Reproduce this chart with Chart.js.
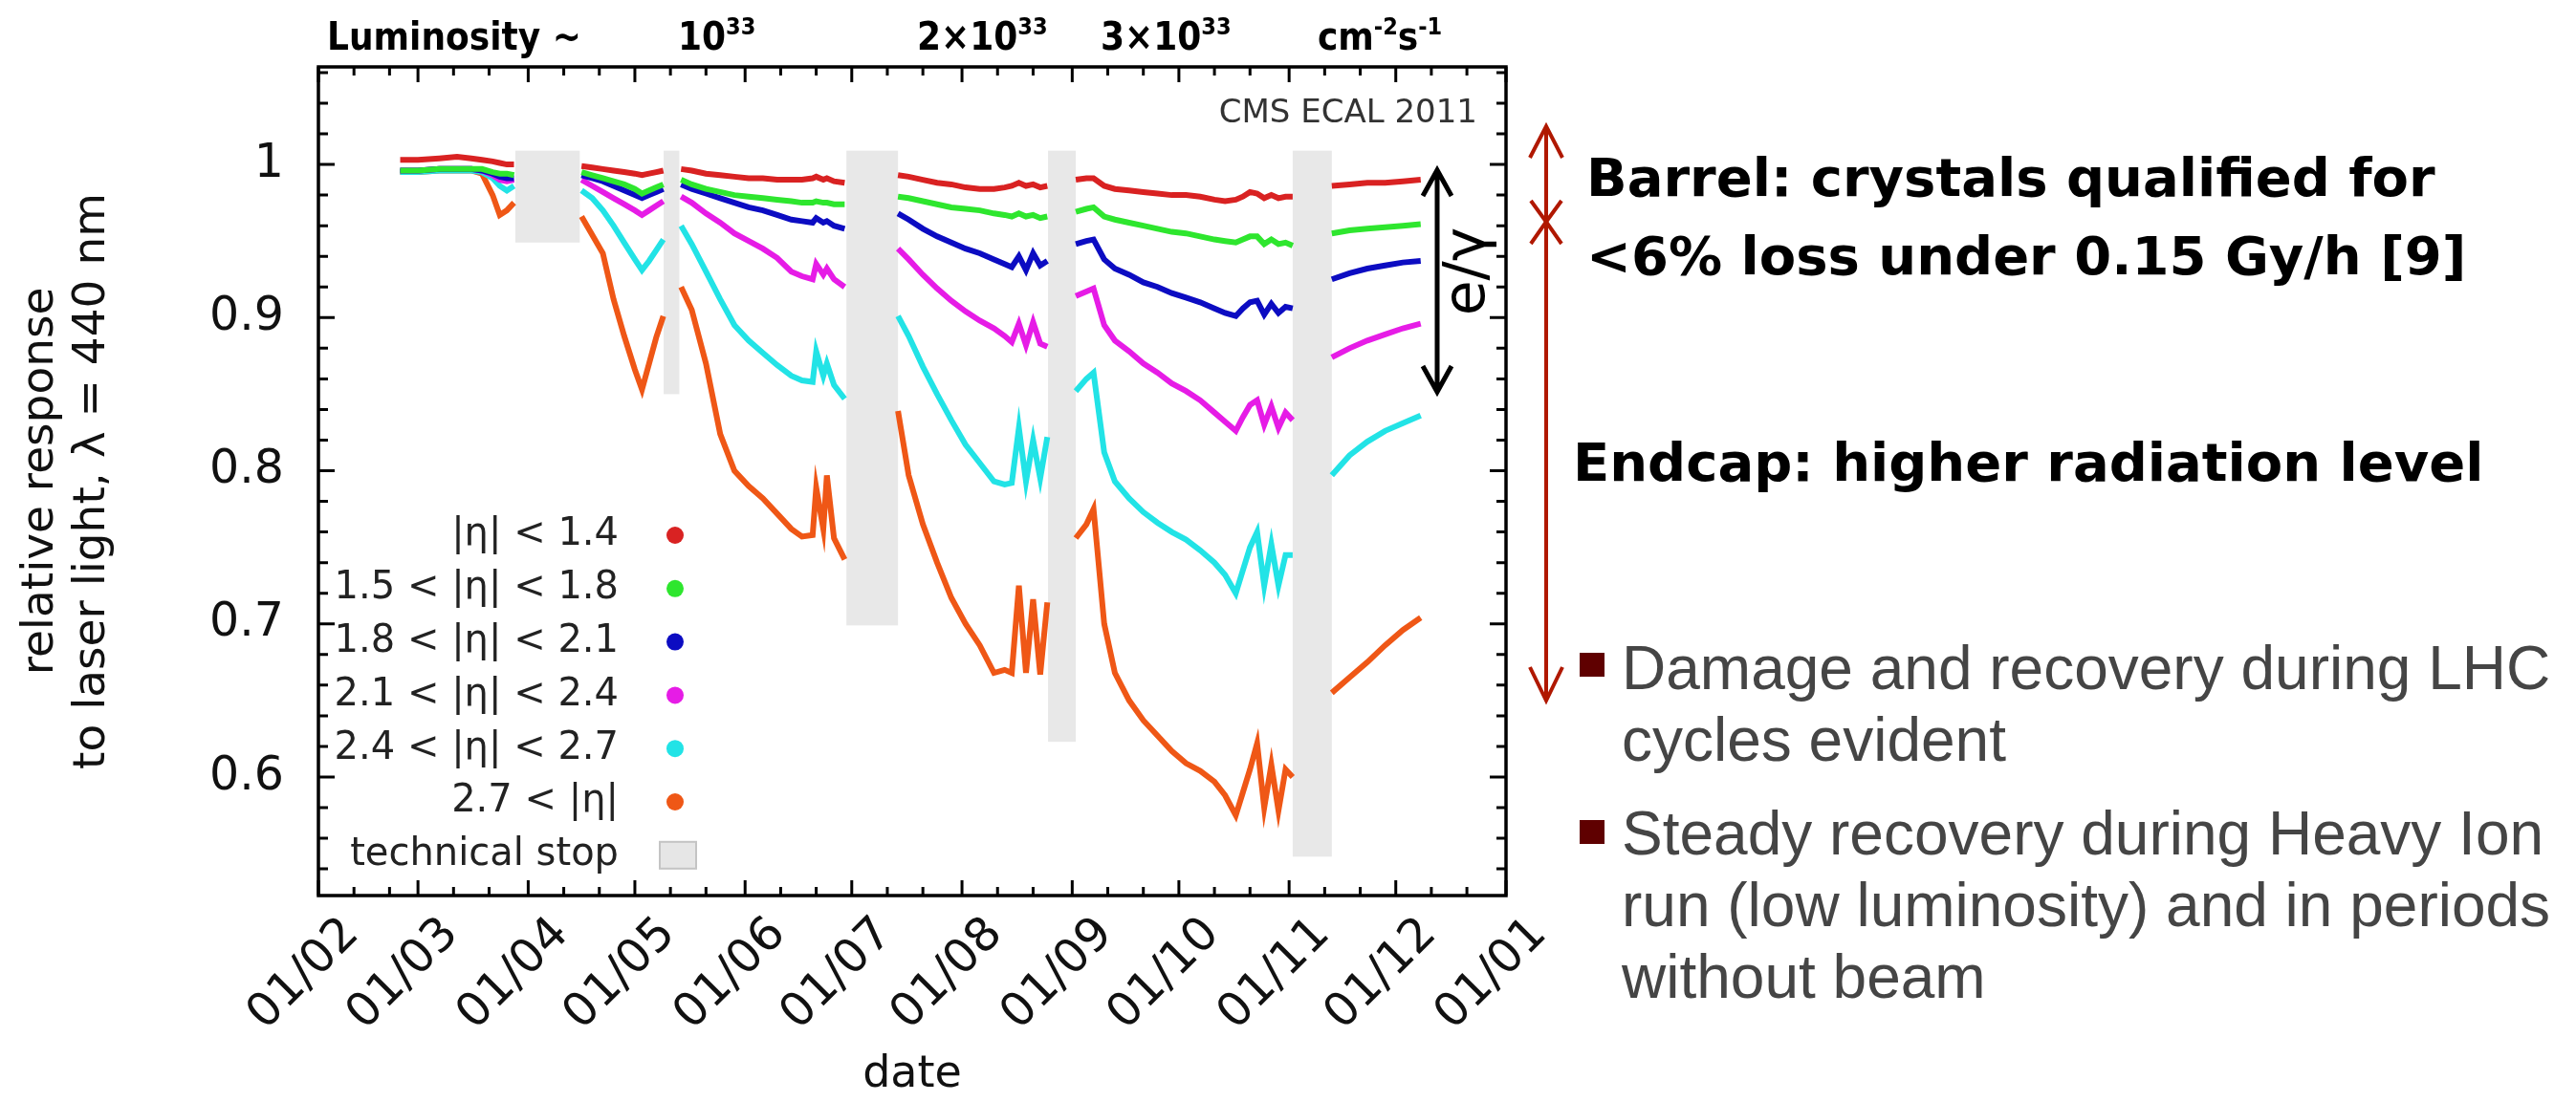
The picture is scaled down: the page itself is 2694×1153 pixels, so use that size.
<!DOCTYPE html>
<html>
<head>
<meta charset="utf-8">
<title>ECAL crystal response 2011</title>
<script src="https://cdn.jsdelivr.net/npm/chart.js@4.4.1/dist/chart.umd.min.js"></script>
<style>
  html, body { margin: 0; padding: 0; background: #fff; }
  #page { position: relative; width: 2694px; height: 1153px; overflow: hidden; background: #fff; }
  #plot { position: absolute; left: 0; top: 0; }
  .lumi { position: absolute; top: 18px; font: bold 40px "DejaVu Sans Condensed", "DejaVu Sans"; line-height: 1; color: #000; white-space: nowrap; }
  .lumi sup { font-size: 25px; position: relative; top: -16px; vertical-align: baseline; }
  .head { position: absolute; font: bold 56px "DejaVu Sans"; line-height: 1; color: #000; white-space: nowrap; }
  .bullet { position: absolute; left: 1696px; font: 64px "Liberation Sans"; line-height: 75px; color: #454545; white-space: nowrap; }
  .square { position: absolute; left: 1652px; width: 26px; height: 25px; background: #5f0000; }
  #marks { position: absolute; left: 0; top: 0; }
</style>
</head>
<body>
<div id="page">
  <canvas id="plot" width="1640" height="1153"></canvas>

  <div class="lumi" style="left:342px">Luminosity ~</div>
  <div class="lumi" style="left:709px">10<sup>33</sup></div>
  <div class="lumi" style="left:959px">2×10<sup>33</sup></div>
  <div class="lumi" style="left:1151px">3×10<sup>33</sup></div>
  <div class="lumi" style="left:1378px">cm<sup>-2</sup>s<sup>-1</sup></div>

  <svg id="marks" width="2694" height="1153">
    <g stroke="#b01800" stroke-width="4" fill="none">
      <line x1="1617" y1="134" x2="1617" y2="731"/>
      <polyline points="1600,165 1617,132 1634,165"/>
      <polyline points="1601,210 1617,232 1633,210"/>
      <polyline points="1601,255 1617,232 1633,255"/>
      <polyline points="1600,698 1617,733 1634,698"/>
    </g>
  </svg>

  <div class="head" style="left:1659px; top:158px">Barrel: crystals qualified for</div>
  <div class="head" style="left:1659px; top:240px">&lt;6% loss under 0.15 Gy/h [9]</div>
  <div class="head" style="left:1645px; top:456px">Endcap: higher radiation level</div>

  <div class="square" style="top:683px"></div>
  <div class="bullet" style="top:662px">Damage and recovery during LHC<br>cycles evident</div>
  <div class="square" style="top:858px"></div>
  <div class="bullet" style="top:835px">Steady recovery during Heavy Ion<br>run (low luminosity) and in periods<br>without beam</div>
</div>

<script>
// x axis: day of year 2011, month starts carry the labels
const monthStarts = [32, 60, 91, 121, 152, 182, 213, 244, 274, 305, 335, 366];
const monthLabels = ['01/02', '01/03', '01/04', '01/05', '01/06', '01/07',
                     '01/08', '01/09', '01/10', '01/11', '01/12', '01/01'];
const yTicks = [0.6, 0.7, 0.8, 0.9, 1];

// sampling days; the lone days 96, 131, 188, 241, 311 sit inside the stops (null -> gap)
const days = [
  55, 60, 66, 71, 75, 78, 81, 83, 85, 87,
  96,
  106, 109, 112, 115, 118, 121, 123, 125, 127, 129,
  131,
  134, 137, 141, 145, 149, 153, 157, 161, 165, 168, 171, 172, 174, 175, 177, 180,
  188,
  195, 198, 202, 206, 210, 214, 218, 222, 225, 227, 229, 231, 233, 235, 237,
  241,
  245, 248, 250, 253, 256, 260, 264, 268, 272, 276, 280, 284, 287, 290, 292, 294, 296, 298, 300, 302, 304, 306,
  311,
  317, 322, 327, 332, 337, 342
];

const eta14 = [
  1.003, 1.003, 1.004, 1.005, 1.004, 1.003, 1.002, 1.001, 1.000, 1.000,
  null,
  0.999, 0.998, 0.997, 0.996, 0.995, 0.994, 0.993, 0.994, 0.995, 0.996,
  null,
  0.997, 0.996, 0.994, 0.993, 0.992, 0.991, 0.991, 0.990, 0.990, 0.990, 0.991, 0.992, 0.990, 0.991, 0.989, 0.988,
  null,
  0.993, 0.992, 0.990, 0.988, 0.987, 0.985, 0.984, 0.984, 0.985, 0.986, 0.988, 0.986, 0.987, 0.985, 0.986,
  null,
  0.990, 0.991, 0.991, 0.986, 0.984, 0.983, 0.982, 0.981, 0.980, 0.980, 0.979, 0.977, 0.976, 0.977, 0.979, 0.982, 0.981, 0.978, 0.980, 0.978, 0.979, 0.979,
  null,
  0.986, 0.987, 0.988, 0.988, 0.989, 0.990
];

const eta1518 = [
  0.996, 0.996, 0.997, 0.997, 0.997, 0.997, 0.995, 0.994, 0.994, 0.993,
  null,
  0.995, 0.993, 0.991, 0.989, 0.987, 0.984, 0.981, 0.983, 0.985, 0.987,
  null,
  0.990, 0.987, 0.984, 0.982, 0.980, 0.979, 0.978, 0.977, 0.976, 0.975, 0.975, 0.976, 0.975, 0.975, 0.974, 0.974,
  null,
  0.979, 0.978, 0.976, 0.974, 0.972, 0.971, 0.970, 0.968, 0.967, 0.966, 0.968, 0.966, 0.967, 0.965, 0.966,
  null,
  0.969, 0.971, 0.972, 0.966, 0.964, 0.962, 0.960, 0.958, 0.956, 0.955, 0.953, 0.951, 0.950, 0.949, 0.951, 0.953, 0.953, 0.948, 0.951, 0.948, 0.949, 0.947,
  null,
  0.955, 0.957, 0.958, 0.959, 0.960, 0.961
];

const eta1821 = [
  0.996, 0.996, 0.997, 0.997, 0.997, 0.996, 0.994, 0.992, 0.991, 0.991,
  null,
  0.993, 0.991, 0.989, 0.986, 0.983, 0.980, 0.978, 0.980, 0.982, 0.984,
  null,
  0.987, 0.984, 0.981, 0.978, 0.975, 0.972, 0.970, 0.967, 0.964, 0.963, 0.962, 0.965, 0.962, 0.963, 0.960, 0.958,
  null,
  0.968, 0.964, 0.958, 0.953, 0.949, 0.945, 0.942, 0.938, 0.935, 0.933, 0.940, 0.931, 0.942, 0.934, 0.937,
  null,
  0.948, 0.950, 0.951, 0.938, 0.932, 0.928, 0.923, 0.920, 0.916, 0.913, 0.910, 0.906, 0.903, 0.901, 0.906, 0.910, 0.911, 0.902, 0.909, 0.903, 0.907, 0.906,
  null,
  0.925, 0.929, 0.932, 0.934, 0.936, 0.937
];

const eta2124 = [
  0.996, 0.996, 0.997, 0.997, 0.997, 0.996, 0.993, 0.990, 0.989, 0.990,
  null,
  0.990, 0.986, 0.982, 0.978, 0.974, 0.970, 0.967, 0.970, 0.973, 0.976,
  null,
  0.979, 0.975, 0.968, 0.962, 0.955, 0.950, 0.945, 0.939, 0.930, 0.927, 0.925, 0.935, 0.928, 0.932, 0.925, 0.920,
  null,
  0.945, 0.938, 0.928, 0.919, 0.911, 0.904, 0.898, 0.893, 0.888, 0.884, 0.896, 0.882, 0.897, 0.883, 0.881,
  null,
  0.914, 0.917, 0.919, 0.895, 0.885, 0.878, 0.870, 0.864, 0.857, 0.852, 0.846, 0.838, 0.832, 0.826, 0.835, 0.843, 0.846, 0.830, 0.842, 0.828, 0.838, 0.833,
  null,
  0.874, 0.880, 0.885, 0.889, 0.893, 0.896
];

const eta2427 = [
  0.995, 0.995, 0.996, 0.996, 0.996, 0.995, 0.991, 0.986, 0.983, 0.986,
  null,
  0.983, 0.978, 0.970, 0.960, 0.949, 0.938, 0.931, 0.937, 0.944, 0.951,
  null,
  0.960, 0.948, 0.930, 0.912, 0.895, 0.885, 0.877, 0.869, 0.862, 0.859, 0.858, 0.878, 0.862, 0.870, 0.856, 0.847,
  null,
  0.901, 0.888, 0.868, 0.850, 0.833, 0.817, 0.805, 0.793, 0.791, 0.792, 0.828, 0.793, 0.820, 0.795, 0.822,
  null,
  0.852, 0.860, 0.864, 0.812, 0.793, 0.782, 0.773, 0.766, 0.760, 0.755, 0.748, 0.740, 0.732, 0.720, 0.735, 0.750, 0.760, 0.725, 0.752, 0.725, 0.745, 0.745,
  null,
  0.797, 0.810, 0.819, 0.826, 0.831, 0.836
];

const eta27 = [
  0.995, 0.995, 0.996, 0.996, 0.996, 0.994, 0.980, 0.967, 0.970, 0.975,
  null,
  0.966, 0.954, 0.942, 0.912, 0.888, 0.866, 0.853, 0.870, 0.887, 0.901,
  null,
  0.920, 0.905, 0.870, 0.824, 0.800, 0.790, 0.782, 0.772, 0.762, 0.757, 0.758, 0.789, 0.762, 0.797, 0.756, 0.742,
  null,
  0.839, 0.797, 0.765, 0.740, 0.717, 0.700, 0.686, 0.668, 0.670, 0.668, 0.725, 0.668, 0.716, 0.667, 0.714,
  null,
  0.756, 0.765, 0.775, 0.700, 0.668, 0.650, 0.637, 0.627, 0.617, 0.609, 0.604, 0.597, 0.588, 0.575, 0.590, 0.605, 0.622, 0.580, 0.608, 0.578, 0.605, 0.600,
  null,
  0.655, 0.665, 0.675, 0.686, 0.696, 0.704
];

const seriesLabels = ['|η| < 1.4', '1.5 < |η| < 1.8', '1.8 < |η| < 2.1',
                      '2.1 < |η| < 2.4', '2.4 < |η| < 2.7', '2.7 < |η|'];
const seriesColors = ['#d92222', '#2ee62e', '#0c0cc2', '#e61ce6', '#22e3e6', '#ef5716'];
const seriesValues = [eta14, eta1518, eta1821, eta2124, eta2427, eta27];

// technical stops: day range and vertical extent of the grey bands
const stopStart = [87.4, 129.1, 180.5, 237.2, 306.0];
const stopEnd = [105.5, 133.5, 195.0, 245.0, 317.0];
const stopLow = [0.949, 0.850, 0.699, 0.623, 0.548];
const stopHigh = [1.009, 1.009, 1.009, 1.009, 1.009];

const FONT = 'DejaVu Sans';

const stopBands = {
  id: 'stopBands',
  beforeDatasetsDraw(chart) {
    const {ctx, scales: {x, y}} = chart;
    ctx.save();
    ctx.fillStyle = '#e8e8e8';
    stopStart.forEach((s, i) => {
      const x0 = x.getPixelForValue(s);
      const x1 = x.getPixelForValue(stopEnd[i]);
      const y0 = y.getPixelForValue(stopHigh[i]);
      const y1 = y.getPixelForValue(stopLow[i]);
      ctx.fillRect(x0, y0, x1 - x0, y1 - y0);
    });
    ctx.restore();
  }
};

// frame with inward ticks on all four sides, legend, tag and e/gamma arrow
const frameAndNotes = {
  id: 'frameAndNotes',
  afterDatasetsDraw(chart) {
    const {ctx, chartArea: a, scales: {x, y}} = chart;
    ctx.save();

    ctx.strokeStyle = '#000';
    ctx.lineWidth = 3;
    ctx.beginPath();
    const xTick = (v, len) => {
      const px = x.getPixelForValue(v);
      ctx.moveTo(px, a.bottom); ctx.lineTo(px, a.bottom - len);
      ctx.moveTo(px, a.top); ctx.lineTo(px, a.top + len);
    };
    const yTick = (v, len) => {
      const py = y.getPixelForValue(v);
      ctx.moveTo(a.left, py); ctx.lineTo(a.left + len, py);
      ctx.moveTo(a.right, py); ctx.lineTo(a.right - len, py);
    };
    monthStarts.forEach((m, i) => {
      xTick(m, 16);
      if (i < monthStarts.length - 1) { xTick(m + 10, 9); xTick(m + 20, 9); }
    });
    for (let v = 0.54; v < 1.07; v += 0.02) {
      const major = Math.abs(v * 10 - Math.round(v * 10)) < 1e-6;
      yTick(v, major ? 17 : 10);
    }
    ctx.stroke();
    ctx.lineWidth = 3.5;
    ctx.strokeRect(a.left, a.top, a.right - a.left, a.bottom - a.top);

    // legend
    ctx.font = `40px "${FONT}"`;
    ctx.textAlign = 'right';
    ctx.textBaseline = 'middle';
    const rowY = i => a.top + 490 + i * 55.8;
    seriesLabels.forEach((lab, i) => {
      ctx.fillStyle = '#222';
      ctx.fillText(lab, a.left + 314, rowY(i));
      ctx.fillStyle = seriesColors[i];
      ctx.beginPath();
      ctx.arc(a.left + 373, rowY(i), 9, 0, Math.PI * 2);
      ctx.fill();
    });
    ctx.fillStyle = '#222';
    ctx.fillText('technical stop', a.left + 314, rowY(6));
    ctx.fillStyle = '#e6e6e6';
    ctx.strokeStyle = '#c4c4c4';
    ctx.lineWidth = 2;
    ctx.fillRect(a.left + 357, rowY(6) - 14, 38, 28);
    ctx.strokeRect(a.left + 357, rowY(6) - 14, 38, 28);

    // experiment tag
    ctx.font = `34px "${FONT}"`;
    ctx.textBaseline = 'alphabetic';
    ctx.fillStyle = '#333';
    ctx.fillText('CMS ECAL 2011', a.right - 30, a.top + 58);

    // e/gamma range arrow
    const ax = a.right - 72, top = a.top + 108, bot = a.top + 340;
    ctx.strokeStyle = '#000';
    ctx.lineWidth = 5;
    ctx.beginPath();
    ctx.moveTo(ax, top + 2); ctx.lineTo(ax, bot - 2);
    ctx.moveTo(ax - 15, top + 27); ctx.lineTo(ax, top); ctx.lineTo(ax + 15, top + 27);
    ctx.moveTo(ax - 15, bot - 27); ctx.lineTo(ax, bot); ctx.lineTo(ax + 15, bot - 27);
    ctx.stroke();
    ctx.translate(ax + 33, a.top + 214);
    ctx.rotate(-Math.PI / 2);
    ctx.font = `60px "${FONT}"`;
    ctx.textAlign = 'center';
    ctx.textBaseline = 'middle';
    ctx.fillStyle = '#000';
    ctx.fillText('e/γ', 0, 0);

    ctx.restore();
  }
};

new Chart(document.getElementById('plot'), {
  type: 'line',
  data: {
    datasets: seriesValues.map((vals, i) => ({
      label: seriesLabels[i],
      data: days.map((d, j) => ({x: d, y: vals[j]})),
      borderColor: seriesColors[i],
      backgroundColor: seriesColors[i],
      borderWidth: 6,
      pointRadius: 0,
      tension: 0,
      spanGaps: false
    }))
  },
  options: {
    responsive: false,
    animation: false,
    devicePixelRatio: 1,
    layout: { padding: { top: 70, right: 65, left: 0, bottom: 0 } },
    plugins: { legend: { display: false }, tooltip: { enabled: false } },
    scales: {
      x: {
        type: 'linear',
        min: 32,
        max: 366,
        afterBuildTicks: s => { s.ticks = monthStarts.map(v => ({value: v})); },
        afterFit: s => { s.height = 216; },
        grid: { display: false, drawTicks: false },
        border: { display: false },
        ticks: {
          autoSkip: false,
          minRotation: 45,
          maxRotation: 45,
          padding: 12,
          labelOffset: 35,
          color: '#111',
          font: { family: FONT, size: 49 },
          callback: v => monthLabels[monthStarts.indexOf(v)]
        },
        title: {
          display: true,
          text: 'date',
          color: '#111',
          font: { family: FONT, size: 46 },
          padding: { top: 0, bottom: 0 }
        }
      },
      y: {
        min: 0.5226,
        max: 1.0637,
        afterBuildTicks: s => { s.ticks = yTicks.map(v => ({value: v})); },
        afterFit: s => { s.width = 333; },
        grid: { display: false, drawTicks: false },
        border: { display: false },
        ticks: {
          padding: 36,
          color: '#111',
          font: { family: FONT, size: 49 },
          callback: v => (v === 1 ? '1' : v.toFixed(1))
        },
        title: {
          display: true,
          text: ['relative response', 'to laser light, λ = 440 nm'],
          color: '#111',
          font: { family: FONT, size: 47, lineHeight: 1.15 },
          padding: { top: 16, bottom: 0 }
        }
      }
    }
  },
  plugins: [stopBands, frameAndNotes]
});
</script>
</body>
</html>
